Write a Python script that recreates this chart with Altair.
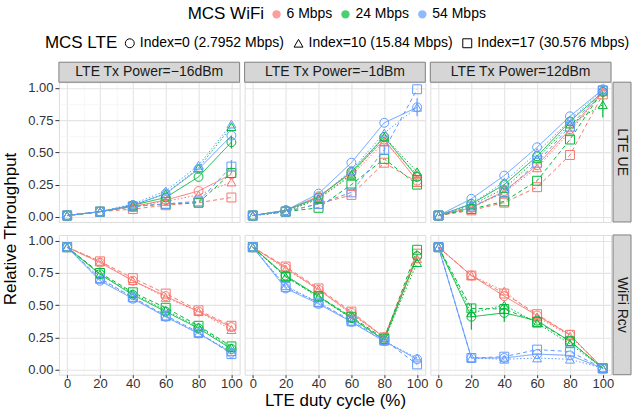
import altair as alt
import pandas as pd

duty = [0, 20, 40, 60, 80, 100]
wifi = ["6 Mbps", "24 Mbps", "54 Mbps"]
lte = ["Index=0 (2.7952 Mbps)", "Index=10 (15.84 Mbps)", "Index=17 (30.576 Mbps)"]
wifi_key = ["w6", "w24", "w54"]
lte_key = ["i0", "i10", "i17"]
powers = ["LTE Tx Power=\u221216dBm", "LTE Tx Power=\u22121dBm", "LTE Tx Power=12dBm"]
metrics = ["LTE UE", "WiFi Rcv"]

# each list: [Index=0, Index=10, Index=17] series over duty cycle
ue_m16_6 = [[0.01, 0.04, 0.08, 0.13, 0.20, 0.33], [0.01, 0.04, 0.08, 0.12, 0.17, 0.27], [0.01, 0.04, 0.06, 0.09, 0.11, 0.15]]
ue_m16_24 = [[0.01, 0.04, 0.09, 0.15, 0.31, 0.58], [0.01, 0.04, 0.09, 0.18, 0.38, 0.70], [0.01, 0.04, 0.08, 0.10, 0.11, 0.34]]
ue_m16_54 = [[0.01, 0.04, 0.09, 0.18, 0.37, 0.63], [0.01, 0.04, 0.10, 0.20, 0.40, 0.72], [0.01, 0.04, 0.08, 0.10, 0.12, 0.39]]

ue_m1_6 = [[0.01, 0.05, 0.16, 0.34, 0.60, 0.28], [0.01, 0.04, 0.14, 0.32, 0.58, 0.33], [0.01, 0.04, 0.10, 0.17, 0.42, 0.27]]
ue_m1_24 = [[0.01, 0.05, 0.15, 0.35, 0.62, 0.31], [0.01, 0.04, 0.14, 0.33, 0.62, 0.35], [0.01, 0.04, 0.07, 0.25, 0.45, 0.25]]
ue_m1_54 = [[0.01, 0.05, 0.18, 0.42, 0.73, 0.85], [0.01, 0.04, 0.15, 0.36, 0.65, 0.85], [0.01, 0.04, 0.10, 0.19, 0.52, 0.99]]

ue_p12_6 = [[0.01, 0.07, 0.20, 0.40, 0.68, 0.97], [0.01, 0.07, 0.19, 0.38, 0.66, 0.97], [0.01, 0.05, 0.11, 0.23, 0.48, 0.95]]
ue_p12_24 = [[0.01, 0.10, 0.25, 0.47, 0.74, 0.97], [0.01, 0.09, 0.22, 0.45, 0.72, 0.87], [0.01, 0.06, 0.12, 0.28, 0.60, 0.98]]
ue_p12_54 = [[0.01, 0.14, 0.32, 0.54, 0.78, 0.99], [0.01, 0.10, 0.27, 0.50, 0.75, 0.99], [0.01, 0.08, 0.19, 0.42, 0.70, 0.98]]

rcv_m16_6 = [[0.95, 0.83, 0.69, 0.57, 0.45, 0.33], [0.95, 0.84, 0.69, 0.56, 0.45, 0.31], [0.95, 0.84, 0.71, 0.59, 0.46, 0.34]]
rcv_m16_24 = [[0.95, 0.74, 0.58, 0.45, 0.32, 0.16], [0.95, 0.74, 0.59, 0.46, 0.33, 0.17], [0.95, 0.75, 0.60, 0.48, 0.34, 0.18]]
rcv_m16_54 = [[0.95, 0.69, 0.55, 0.41, 0.28, 0.13], [0.95, 0.70, 0.56, 0.41, 0.28, 0.14], [0.95, 0.71, 0.56, 0.42, 0.29, 0.12]]

rcv_m1_6 = [[0.95, 0.79, 0.62, 0.44, 0.25, 0.88], [0.95, 0.78, 0.62, 0.43, 0.25, 0.86], [0.95, 0.80, 0.63, 0.45, 0.25, 0.90]]
rcv_m1_24 = [[0.95, 0.73, 0.57, 0.40, 0.23, 0.88], [0.95, 0.72, 0.56, 0.40, 0.23, 0.83], [0.95, 0.72, 0.57, 0.41, 0.24, 0.93]]
rcv_m1_54 = [[0.95, 0.63, 0.51, 0.37, 0.22, 0.08], [0.95, 0.65, 0.52, 0.37, 0.22, 0.09], [0.95, 0.64, 0.52, 0.38, 0.23, 0.04]]

rcv_p12_6 = [[0.95, 0.73, 0.57, 0.42, 0.27, 0.01], [0.95, 0.73, 0.61, 0.41, 0.26, 0.01], [0.95, 0.73, 0.59, 0.43, 0.27, 0.01]]
rcv_p12_24 = [[0.95, 0.41, 0.44, 0.38, 0.22, 0.01], [0.95, 0.44, 0.50, 0.36, 0.20, 0.01], [0.95, 0.475, 0.47, 0.37, 0.22, 0.01]]
rcv_p12_54 = [[0.95, 0.09, 0.09, 0.12, 0.11, 0.01], [0.95, 0.09, 0.08, 0.09, 0.08, 0.01], [0.95, 0.09, 0.10, 0.155, 0.14, 0.01]]

panels = {
    (0, 0): [ue_m16_6, ue_m16_24, ue_m16_54],
    (0, 1): [ue_m1_6, ue_m1_24, ue_m1_54],
    (0, 2): [ue_p12_6, ue_p12_24, ue_p12_54],
    (1, 0): [rcv_m16_6, rcv_m16_24, rcv_m16_54],
    (1, 1): [rcv_m1_6, rcv_m1_24, rcv_m1_54],
    (1, 2): [rcv_p12_6, rcv_p12_24, rcv_p12_54],
}

# error-bar half widths: (row, col, wifi idx, lte idx, duty, half width)
errors = [
    (0, 0, 1, 0, 100, 0.05),
    (0, 0, 2, 2, 100, 0.05),
    (0, 1, 2, 1, 100, 0.07),
    (0, 1, 2, 2, 80, 0.04),
    (0, 2, 1, 1, 100, 0.10),
    (1, 2, 1, 0, 20, 0.10),
    (1, 2, 1, 0, 40, 0.07),
    (1, 2, 1, 2, 40, 0.04),
]

recs = []
for (r, c), series in panels.items():
    for wi, per_wifi in enumerate(series):
        for li, vals in enumerate(per_wifi):
            for d, v in zip(duty, vals):
                e = 0.0
                for er in errors:
                    if er[:5] == (r, c, wi, li, d):
                        e = er[5]
                recs.append({"row": r, "col": c, "wifi": wifi[wi], "lte": lte[li],
                             "wkey": wifi_key[wi], "lkey": lte_key[li],
                             "duty": d, "val": v, "lo": v - e, "hi": v + e, "err": e})
df = pd.DataFrame(recs)

W, H = 181, 140
FONT = "Liberation Sans"
XS = alt.Scale(domain=[-5, 105], nice=False, zero=False)
YS = alt.Scale(domain=[-0.04, 1.045], nice=False, zero=False)
colors = ["#F8766D", "#00BA38", "#619CFF"]

fill_legend = alt.Legend(
    title="MCS WiFi", orient="none", legendX=129, legendY=-75, direction="horizontal",
    titleOrient="left", titleFontSize=17, titleFont=FONT, titleFontWeight="normal", titleColor="black",
    labelFontSize=14, labelFont=FONT, labelColor="black", symbolType="circle", symbolSize=70,
    symbolStrokeWidth=0, columnPadding=6, labelOffset=3, titlePadding=5, labelLimit=300,
)
shape_legend = alt.Legend(
    title="MCS LTE", orient="none", legendX=-14, legendY=-46, direction="horizontal",
    titleOrient="left", titleFontSize=17, titleFont=FONT, titleFontWeight="normal", titleColor="black",
    labelFontSize=14, labelFont=FONT, labelColor="black", symbolSize=80, symbolStrokeColor="black",
    symbolFillColor="transparent", symbolStrokeWidth=1, columnPadding=7, labelOffset=3, titlePadding=5,
    labelLimit=300,
)

color_enc = alt.Color("wkey:N", scale=alt.Scale(domain=wifi_key, range=colors), legend=None)
shape_enc = alt.Shape("lte:N", scale=alt.Scale(domain=lte, range=["circle", "triangle-up", "square"]), legend=shape_legend)
dash_enc = alt.StrokeDash("lkey:N", scale=alt.Scale(domain=lte_key, range=[[1, 0], [1.5, 2], [4, 3]]), legend=None)


def panel(r, c):
    d = df[(df.row == r) & (df.col == c)]
    show_x = r == 1
    show_y = c == 0
    xt = "LTE duty cycle (%)" if (r == 1 and c == 1) else None
    yt = "Relative Throughput" if (r == 0 and c == 0) else None
    base = alt.Chart(d)
    minor = base.mark_point(opacity=0).encode(
        x=alt.X("duty:Q", scale=XS, axis=alt.Axis(orient="bottom", values=[10, 30, 50, 70, 90], grid=True,
                                                  labels=False, ticks=False, domain=False, title=None,
                                                  gridColor="#F3F3F3", gridWidth=0.7)),
        y=alt.Y("val:Q", scale=YS, axis=alt.Axis(orient="left", values=[0.125, 0.375, 0.625, 0.875], grid=True,
                                                 labels=False, ticks=False, domain=False, title=None,
                                                 gridColor="#F3F3F3", gridWidth=0.7)),
    )
    xax = dict(orient="bottom", values=duty, grid=True, gridColor="#E4E4E4", gridWidth=1.1, domain=False,
               labels=show_x, ticks=show_x, tickSize=3, tickColor="#333333", labelFontSize=13,
               labelFont=FONT, labelColor="#333333", labelPadding=0, title=xt, titleFontSize=17,
               titleFont=FONT, titleFontWeight="normal", titleColor="black", titlePadding=2)
    yax = dict(orient="left", values=[0, 0.25, 0.5, 0.75, 1.0], format=".2f", grid=True, gridColor="#E4E4E4",
               gridWidth=1.1, domain=False, labels=show_y, ticks=show_y, tickSize=4, tickColor="#333333",
               labelFontSize=13, labelFont=FONT, labelColor="#333333", labelPadding=2, title=yt,
               titleFontSize=17, titleFont=FONT, titleFontWeight="normal", titleColor="black", titlePadding=8)
    if yt:
        yax["titleY"] = H + 6.5
    lines = base.mark_line(strokeWidth=1).encode(
        x=alt.X("duty:Q", scale=XS, axis=alt.Axis(**xax)),
        y=alt.Y("val:Q", scale=YS, axis=alt.Axis(**yax)),
        color=color_enc, strokeDash=dash_enc, detail="lte:N",
    )
    errs = alt.Chart(d[d.err > 0]).mark_rule(strokeWidth=1.2).encode(
        x=alt.X("duty:Q", scale=XS, axis=None),
        y=alt.Y("lo:Q", scale=YS, axis=None),
        y2="hi:Q",
        color=color_enc,
    )
    pts = base.mark_point(filled=False, size=80, strokeWidth=1, opacity=1).encode(
        x=alt.X("duty:Q", scale=XS, axis=None),
        y=alt.Y("val:Q", scale=YS, axis=None),
        color=color_enc, shape=shape_enc,
    )
    layers = [minor, lines, errs, pts]
    if r == 0 and c == 0:
        layers.append(base.mark_circle().encode(
            x=alt.X("duty:Q", scale=XS, axis=None),
            y=alt.Y("val:Q", scale=YS, axis=None),
            fill=alt.Fill("wifi:N", scale=alt.Scale(domain=wifi, range=colors), legend=fill_legend),
        ).transform_filter("false"))
    if r == 0:
        sd = pd.DataFrame({"t": [powers[c]]})
        layers.append(alt.Chart(sd).mark_rect(fill="#D6D6D6", stroke="#808080", strokeWidth=1).encode(
            x=alt.value(0), x2=alt.value(W), y=alt.value(-20), y2=alt.value(0)))
        layers.append(alt.Chart(sd).mark_text(fontSize=14, font=FONT, color="#1A1A1A", baseline="middle").encode(
            x=alt.value(W / 2), y=alt.value(-10), text="t:N"))
    if c == 2:
        sd = pd.DataFrame({"t": [metrics[r]]})
        layers.append(alt.Chart(sd).mark_rect(fill="#D6D6D6", stroke="#808080", strokeWidth=1).encode(
            x=alt.value(W + 2), x2=alt.value(W + 20), y=alt.value(0), y2=alt.value(H)))
        layers.append(alt.Chart(sd).mark_text(fontSize=14, font=FONT, color="#1A1A1A", baseline="middle",
                                              angle=90).encode(
            x=alt.value(W + 11), y=alt.value(H / 2), text="t:N"))
    return alt.layer(*layers).resolve_axis(x="independent", y="independent").properties(width=W, height=H)


chart = alt.concat(
    panel(0, 0), panel(0, 1), panel(0, 2), panel(1, 0), panel(1, 1), panel(1, 2),
    columns=3, spacing={"row": 13, "column": 5}, bounds="flush",
).properties(
    padding={"left": 1, "top": 7, "right": 0, "bottom": 2}
).configure_view(stroke="#7F7F7F", strokeWidth=1).configure(background="white")

chart.save("out.html", embed_options={"renderer": "svg", "actions": False})
